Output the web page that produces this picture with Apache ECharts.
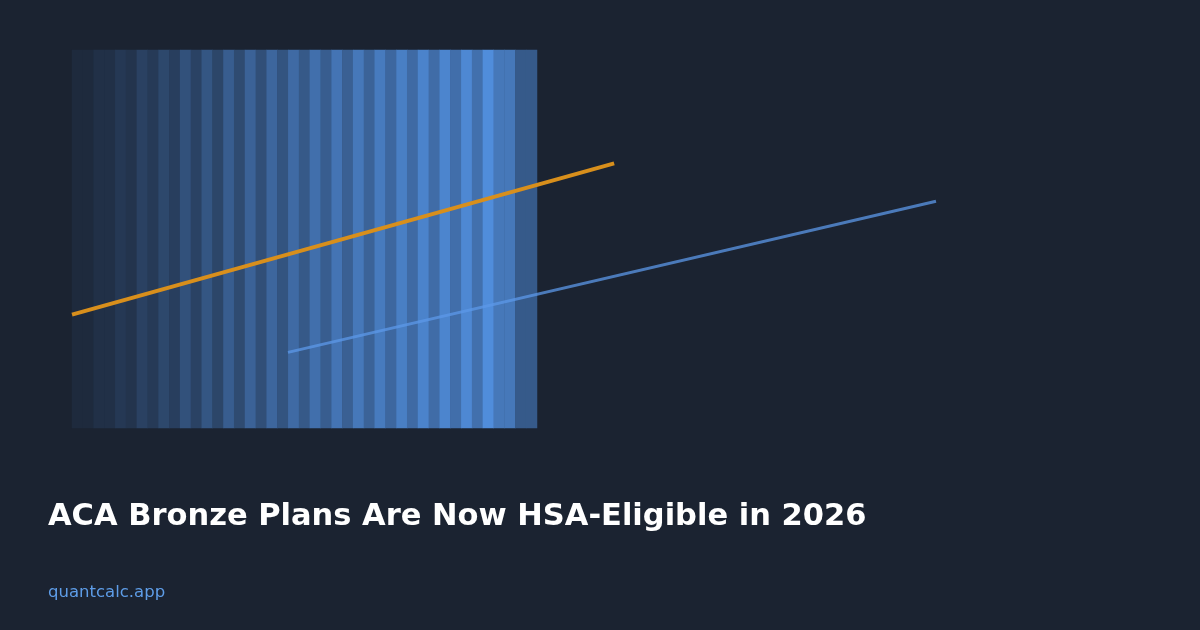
<!DOCTYPE html>
<html>
<head>
<meta charset="utf-8">
<script src="https://cdn.jsdelivr.net/npm/echarts@6/dist/echarts.min.js"></script>
<style>
html,body{margin:0;padding:0;background:#1b2331;}
#chart{width:1200px;height:630px;}
</style>
</head>
<body>
<div id="chart"></div>
<script>
// Stripe intensities (0 = darkest, 100 = brightest), left to right
const stripeValues = [0,0,6,6,14,10,23,16,29,20,38,24,43,27,50,32,55,36,59,41,63,46,68,50,73,53,76,56,79,60,83,63,87,65,89,67,92,69,97,76,76,47,47];
const stripeCategories = stripeValues.map((_, i) => 'S' + (i + 1));

// Trend lines: [x, y]
const orangeLine = [[0, 30], [2.51, 70]];
const blueLine = [[1, 20], [4, 60]];

const titleText = 'ACA Bronze Plans Are Now HSA-Eligible in 2026';
const siteText = 'quantcalc.app';

const chart = echarts.init(document.getElementById('chart'), null, {renderer: 'canvas'});
chart.setOption({
  backgroundColor: '#1b2331',
  animation: false,
  title: [
    {text: titleText, left: 43, top: 497,
     textStyle: {color: '#ffffff', fontFamily: 'DejaVu Sans', fontWeight: 'bold', fontSize: 30.5}},
    {text: siteText, left: 43, top: 579,
     textStyle: {color: '#5e9de8', fontFamily: 'DejaVu Sans', fontWeight: 'normal', fontSize: 16.5}}
  ],
  grid: [
    {left: 72, top: 50, width: 465, height: 378},
    {left: 72, top: 50, width: 1080, height: 378}
  ],
  xAxis: [
    {type: 'category', gridIndex: 0, data: stripeCategories, show: false},
    {type: 'value', gridIndex: 1, min: 0, max: 5, show: false}
  ],
  yAxis: [
    {type: 'category', gridIndex: 0, data: ['row'], show: false},
    {type: 'value', gridIndex: 1, min: 0, max: 100, show: false}
  ],
  visualMap: {
    show: false, seriesIndex: 0, min: 0, max: 100, dimension: 2,
    inRange: {color: ['#1e2a3d', '#5290e0']}
  },
  series: [
    {type: 'heatmap', xAxisIndex: 0, yAxisIndex: 0,
     data: stripeValues.map((v, i) => [i, 0, v]),
     itemStyle: {borderWidth: 0}},
    {type: 'line', xAxisIndex: 1, yAxisIndex: 1, data: orangeLine,
     showSymbol: false, lineStyle: {color: '#d88f1c', width: 4}, z: 5},
    {type: 'line', xAxisIndex: 1, yAxisIndex: 1, data: blueLine,
     showSymbol: false, lineStyle: {color: 'rgba(92,152,232,0.75)', width: 3}, z: 4}
  ]
});
</script>
</body>
</html>
